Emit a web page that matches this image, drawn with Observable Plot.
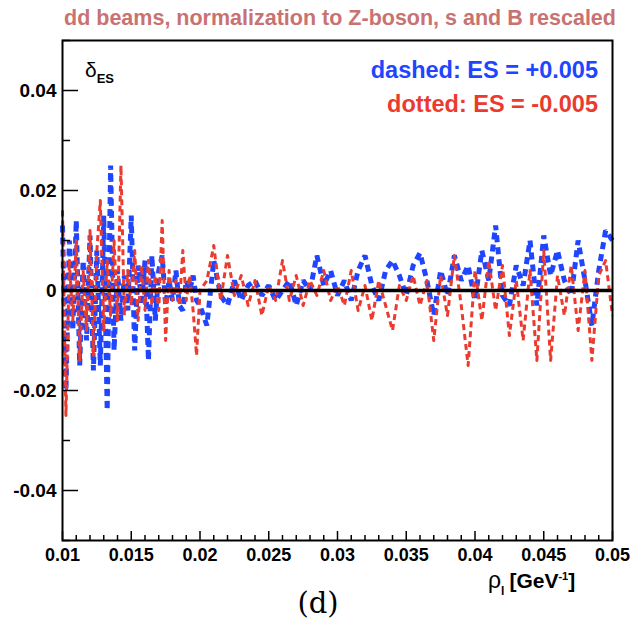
<!DOCTYPE html>
<html><head><meta charset="utf-8">
<script src="https://cdn.jsdelivr.net/npm/d3@7"></script>
<script src="https://cdn.jsdelivr.net/npm/@observablehq/plot@0.6"></script>
<style>
body{margin:0;background:#fff}
svg{display:block}
</style>
</head><body><div id="chart"></div>
<script>
const title = "dd beams, normalization to Z-boson, s and B rescaled";
const legendDashed = "dashed: ES = +0.005";
const legendDotted = "dotted: ES = -0.005";
const panelLabel = "(d)";

const xs = [0.01000,0.01025,0.01050,0.01075,0.01100,0.01125,0.01150,0.01175,0.01200,0.01225,
 0.01250,0.01275,0.01300,0.01325,0.01350,0.01375,0.01400,0.01425,0.01450,0.01475,
 0.01500,0.01525,0.01550,0.01575,0.01600,0.01625,0.01650,0.01675,0.01700,0.01725,
 0.01750,0.01775,0.01800,0.01825,0.01850,0.01875,0.01900,0.01925,0.01950,0.01975,
 0.0200,0.0205,0.0210,0.0215,0.0220,0.0225,0.0230,0.0235,0.0240,0.0245,
 0.0250,0.0255,0.0260,0.0265,0.0270,0.0275,0.0280,0.0285,0.0290,0.0295,
 0.0300,0.0305,0.0310,0.0315,0.0320,0.0325,0.0330,0.0335,0.0340,0.0345,
 0.0350,0.0355,0.0360,0.0365,0.0370,0.0375,0.0380,0.0385,0.0390,0.0395,
 0.0400,0.0405,0.0410,0.0415,0.0420,0.0425,0.0430,0.0435,0.0440,0.0445,
 0.0450,0.0455,0.0460,0.0465,0.0470,0.0475,0.0480,0.0485,0.0490,0.0495,0.0500];

const dashedPlus = [0.013,-0.020,0.010,-0.008,0.014,-0.015,0.006,-0.010,0.011,-0.016,
 0.008,-0.015,0.015,-0.024,0.025,-0.012,0.004,-0.006,0.003,-0.004,
 0.015,-0.012,0.005,-0.003,0.006,-0.014,0.007,-0.006,0.004,0.007,
 -0.003,0.002,-0.002,0.004,-0.003,-0.004,0.002,0.000,0.003,-0.002,
 -0.003,-0.007,0.006,-0.001,-0.003,0.002,-0.002,0.001,0.002,-0.001,
 0.001,-0.002,0.000,0.002,-0.003,0.002,0.000,0.007,0.001,0.004,
 -0.001,0.002,-0.002,0.004,0.007,0.001,-0.002,0.004,0.006,0.003,
 -0.001,0.005,0.0075,0.002,-0.005,0.004,-0.001,0.007,0.002,0.005,
 -0.002,0.008,0.002,0.013,-0.001,-0.003,0.005,0.001,0.010,-0.003,
 0.011,0.003,0.008,0.002,-0.001,0.010,0.002,-0.007,0.004,0.012,0.010];

const dottedMinus = [0.016,-0.025,0.006,-0.006,0.010,-0.014,0.004,-0.008,0.012,-0.013,
 0.008,0.018,-0.008,0.006,-0.005,0.010,-0.006,0.025,-0.005,0.004,
 -0.003,0.008,-0.006,0.005,-0.004,0.006,-0.003,0.003,-0.004,0.014,
 -0.010,0.004,-0.002,0.002,-0.003,0.008,-0.002,0.003,-0.004,-0.013,
 0.000,0.002,0.009,-0.002,0.007,-0.001,0.003,-0.003,0.002,-0.005,
 0.001,-0.002,0.006,-0.002,0.003,-0.003,0.002,-0.001,0.004,-0.002,
 0.001,-0.003,0.004,-0.004,0.001,-0.006,0.002,-0.003,-0.008,0.001,
 -0.002,0.003,-0.003,0.002,-0.010,0.003,-0.005,0.007,-0.003,-0.015,
 0.004,-0.006,0.006,-0.004,0.005,-0.009,0.002,-0.010,0.004,-0.014,
 0.008,-0.014,0.003,-0.005,0.005,-0.008,0.004,-0.014,0.003,0.006,-0.005];

const yMajor = [-0.04,-0.02,0,0.02,0.04];
const yMinor = [-0.05,-0.03,-0.01,0.01,0.03,0.05];
const xMajor = [0.01,0.015,0.02,0.025,0.03,0.035,0.04,0.045,0.05];
const xMinor = [0.011,0.012,0.013,0.014,0.016,0.017,0.018,0.019,0.021,0.022,0.023,0.024,
 0.026,0.027,0.028,0.029,0.031,0.032,0.033,0.034,0.036,0.037,0.038,0.039,
 0.041,0.042,0.043,0.044,0.046,0.047,0.048,0.049];

const blueData = xs.map((x,i)=>({x, y: dashedPlus[i]}));
const redData = xs.map((x,i)=>({x, y: dottedMinus[i]}));

const W = 634, H = 624, mL = 62, mR = 22, mT = 40, mB = 84;
const pw = W - mL - mR, ph = H - mT - mB;
const BLUE = "#1f45ff", RED = "#ea3b2e";
const SANS = "'Liberation Sans', Arial, sans-serif";

const chart = Plot.plot({
  width: W, height: H,
  marginLeft: mL, marginRight: mR, marginTop: mT, marginBottom: mB,
  style: {fontFamily: SANS, fontWeight: "bold", fontSize: "18px", color: "#000", background: "#fff"},
  x: {domain: [0.01, 0.05]},
  y: {domain: [-0.05, 0.05]},
  marks: [
    Plot.line(blueData, {x: "x", y: "y", stroke: BLUE, strokeWidth: 5, strokeDasharray: "7,5", strokeLinecap: "butt", strokeLinejoin: "miter"}),
    Plot.line(redData, {x: "x", y: "y", stroke: RED, strokeWidth: 3, strokeDasharray: "6,4", strokeLinecap: "butt"}),
    Plot.ruleY([0], {stroke: "#000", strokeWidth: 3.5}),
    Plot.tickY(yMajor, {y: d => d, insetRight: pw - 16, stroke: "#000", strokeWidth: 1.5}),
    Plot.tickY(yMinor, {y: d => d, insetRight: pw - 8, stroke: "#000", strokeWidth: 1.5}),
    Plot.tickX(xMajor, {x: d => d, insetTop: ph - 9, stroke: "#000", strokeWidth: 1.5}),
    Plot.tickX(xMinor, {x: d => d, insetTop: ph - 5, stroke: "#000", strokeWidth: 1.5}),
    Plot.axisY(yMajor, {tickSize: 0, tickPadding: 6, tickFormat: d => d === 0 ? "0" : String(d), fontSize: 19, fontWeight: "bold", label: null}),
    Plot.axisX(xMajor, {tickSize: 0, tickPadding: 8, tickFormat: d => String(d), fontSize: 18, fontWeight: "bold", label: null}),
    Plot.frame({stroke: "#000", strokeWidth: 2})
  ]
});
document.getElementById("chart").appendChild(chart);

const svg = d3.select(chart);
svg.append("text").attr("x", 340).attr("y", 25).attr("text-anchor", "middle")
  .attr("fill", "#c87272").attr("font-size", 21.5).attr("font-weight", "bold")
  .attr("font-family", SANS).text(title);

const d = svg.append("text").attr("x", 85).attr("y", 77).attr("text-anchor", "start")
  .attr("font-family", SANS).attr("fill", "#000");
d.append("tspan").attr("font-size", 21).attr("font-weight", "normal").text("δ");
d.append("tspan").attr("font-size", 13).attr("font-weight", "bold").attr("dy", 6).text("ES");

svg.append("text").attr("x", 598).attr("y", 78).attr("text-anchor", "end")
  .attr("fill", BLUE).attr("font-size", 23.5).attr("font-weight", "bold")
  .attr("font-family", SANS).text(legendDashed);
svg.append("text").attr("x", 598).attr("y", 112).attr("text-anchor", "end")
  .attr("fill", RED).attr("font-size", 23.5).attr("font-weight", "bold")
  .attr("font-family", SANS).text(legendDotted);

const xl = svg.append("text").attr("x", 488).attr("y", 588).attr("text-anchor", "start")
  .attr("font-family", SANS).attr("fill", "#000");
xl.append("tspan").attr("font-size", 23).attr("font-weight", "normal").text("ρ");
xl.append("tspan").attr("font-size", 12).attr("font-weight", "bold").attr("dy", 7).text("l");
xl.append("tspan").attr("font-size", 21).attr("font-weight", "bold").attr("dy", -7).attr("dx", 5).text("[GeV");
xl.append("tspan").attr("font-size", 11).attr("font-weight", "bold").attr("dy", -8).text("-1");
xl.append("tspan").attr("font-size", 21).attr("font-weight", "bold").attr("dy", 8).text("]");

svg.append("text").attr("x", 318).attr("y", 613).attr("text-anchor", "middle")
  .attr("font-size", 29).attr("font-weight", "normal").attr("font-family", "'DejaVu Serif', 'Liberation Serif', serif")
  .attr("fill", "#000").text(panelLabel);
</script>
</body></html>
